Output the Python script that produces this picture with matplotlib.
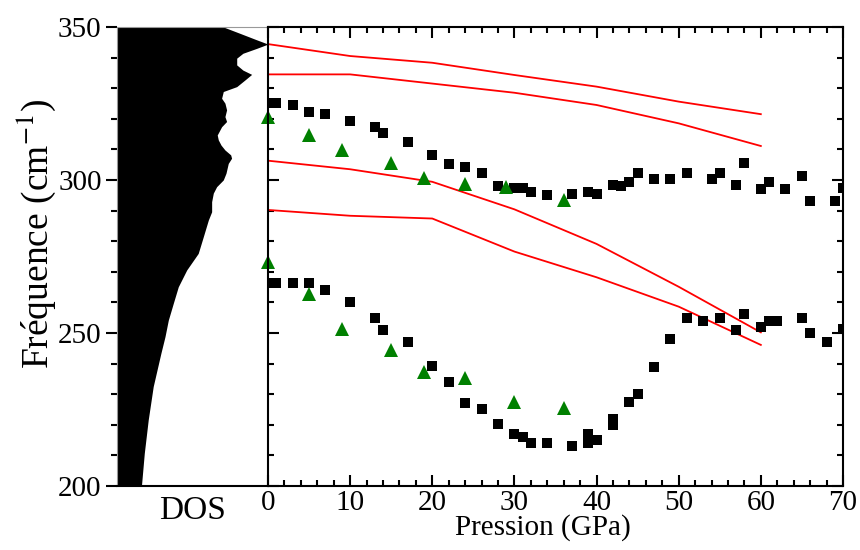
import numpy as np
import matplotlib.pyplot as plt
from matplotlib.ticker import MultipleLocator

plt.rcParams['font.family'] = ['Liberation Serif', 'DejaVu Serif']
plt.rcParams['mathtext.fontset'] = 'stix'

# upper branch, squares
p_sq_hi = [0, 1, 3, 5, 7, 10, 13, 14, 17, 20, 22, 24, 26, 28, 30, 31, 32, 34, 37, 39, 40,
           42, 43, 44, 45, 47, 49, 51, 54, 55, 57, 58, 60, 61, 63, 65, 66, 69, 70]
f_sq_hi = [325.3, 325, 324.5, 322.3, 321.5, 319.4, 317.4, 315.5, 312.4, 308.3, 305.2, 304.2,
           302.4, 298.1, 297.3, 297.3, 296.2, 295.1, 295.3, 296.2, 295.3, 298.4, 298.1, 299.4,
           302.4, 300.3, 300.3, 302.4, 300.3, 302.4, 298.3, 305.5, 297.2, 299.4, 297.2, 301.4,
           293.2, 293.2, 297.3]

# lower branch, squares
p_sq_lo = [0, 1, 3, 5, 7, 10, 13, 14, 17, 20, 22, 24, 26, 28, 30, 31, 32, 34, 37, 39, 39, 40,
           42, 42, 44, 45, 47, 49, 51, 53, 55, 57, 58, 60, 61, 62, 65, 66, 68, 70]
f_sq_lo = [266.2, 266.2, 266.2, 266.2, 264.1, 260.2, 255.0, 251.1, 247.1, 239.2, 234.0, 227.0,
           225.1, 220.2, 217.0, 216.1, 214.0, 214.0, 213.1, 217.0, 214.0, 215.0, 221.8, 219.8,
           227.4, 230.1, 239.0, 248.0, 255.0, 254.0, 255.0, 251.0, 256.1, 252.1, 254.0, 254.0,
           255.0, 250.1, 247.1, 251.2]

# triangles
p_tri = [0, 5, 9, 15, 19, 24, 29, 36]
f_tri_hi = [320.5, 314.7, 309.8, 305.7, 300.8, 298.6, 297.6, 293.6]
p_tri_lo = [0, 5, 9, 15, 19, 24, 30, 36]
f_tri_lo = [273.3, 262.6, 251.3, 244.4, 237.4, 235.4, 227.4, 225.4]

# calculated modes (red lines)
p_calc = [0, 10, 20, 30, 40, 50, 60]
f_calc1 = [344.4, 340.5, 338.3, 334.3, 330.5, 325.6, 321.5]
f_calc2 = [334.5, 334.5, 331.5, 328.5, 324.5, 318.5, 311.1]
f_calc3 = [306.3, 303.5, 299.4, 290.4, 279.1, 265.1, 250.2]
f_calc4 = [290.2, 288.3, 287.4, 276.6, 268.2, 258.6, 246.1]

# density of states
dos_f = [350, 347.9, 345.8, 344.4, 343, 341.4, 339.8, 337.6, 335.9, 334.5, 332.7, 330.5,
         328.9, 326.7, 325.1, 322.9, 320.7, 319.1, 317.4, 314.7, 313.1, 311.4, 309.8, 308.2,
         307.1, 305.4, 302.2, 300, 297.8, 295.7, 292.9, 289.6, 286.9, 281.5, 276, 270.6,
         265.1, 259.7, 254.2, 248.8, 243.4, 232.5, 221.6, 210.7, 200]
dos_v = [0.704, 0.815, 0.925, 1.0, 0.925, 0.834, 0.793, 0.793, 0.834, 0.892, 0.848, 0.793,
         0.704, 0.693, 0.715, 0.726, 0.715, 0.726, 0.693, 0.664, 0.671, 0.689, 0.715, 0.753,
         0.759, 0.737, 0.722, 0.704, 0.660, 0.638, 0.627, 0.627, 0.605, 0.572, 0.538, 0.462,
         0.406, 0.373, 0.340, 0.318, 0.291, 0.240, 0.207, 0.181, 0.162]

fig = plt.figure(figsize=(8.6, 5.5), dpi=100)

ax1 = fig.add_axes([0.136, 0.1164, 0.1756, 0.8346])
ax1.fill_betweenx(dos_f, 0, dos_v, color='black', lw=0)
ax1.set_xlim(0, 1)
ax1.set_ylim(200, 350)
ax1.set_xticks([])
ax1.yaxis.set_major_locator(MultipleLocator(50))
ax1.yaxis.set_minor_locator(MultipleLocator(10))
ax1.tick_params(axis='y', which='major', direction='out', length=8, width=1.5, labelsize=21,
                pad=3)
ax1.tick_params(axis='y', which='minor', direction='out', length=4.5, width=1.5)
ax1.spines['left'].set_color('0.6')
ax1.spines['left'].set_linewidth(0.8)
ax1.spines['top'].set_color('0.6')
ax1.spines['top'].set_linewidth(0.8)
ax1.spines['right'].set_visible(False)
ax1.spines['bottom'].set_linewidth(1.5)
ax1.set_ylabel(u'Fréquence (cm$^{-1}$)', fontsize=27)
ax1.yaxis.set_label_coords(-0.39, 0.55)
ax1.text(0.5, -0.02, 'DOS', transform=ax1.transAxes, ha='center', va='top', fontsize=24)

ax2 = fig.add_axes([0.3116, 0.1164, 0.6686, 0.8346])
for f in [f_calc1, f_calc2, f_calc3, f_calc4]:
    ax2.plot(p_calc, f, color='red', lw=1.3)
ax2.plot(p_sq_hi, f_sq_hi, 's', color='black', ms=6.5, mew=0)
ax2.plot(p_sq_lo, f_sq_lo, 's', color='black', ms=6.5, mew=0)
ax2.plot(p_tri, f_tri_hi, '^', color='green', ms=10.5, mew=0, clip_on=False)
ax2.plot(p_tri_lo, f_tri_lo, '^', color='green', ms=10.5, mew=0, clip_on=False)
ax2.set_xlim(0, 70)
ax2.set_ylim(200, 350)
ax2.xaxis.set_major_locator(MultipleLocator(10))
ax2.xaxis.set_minor_locator(MultipleLocator(2))
ax2.yaxis.set_major_locator(MultipleLocator(50))
ax2.yaxis.set_minor_locator(MultipleLocator(10))
ax2.tick_params(which='both', direction='in', top=True, right=True, width=1.5, labelsize=21,
                labelleft=False, pad=3)
ax2.tick_params(which='major', length=8)
ax2.tick_params(which='minor', length=4.5)
for s in ax2.spines.values():
    s.set_linewidth(1.5)
ax2.set_xlabel('Pression (GPa)', fontsize=21)
ax2.xaxis.set_label_coords(0.478, -0.062)

plt.savefig('out.png', dpi=100)
